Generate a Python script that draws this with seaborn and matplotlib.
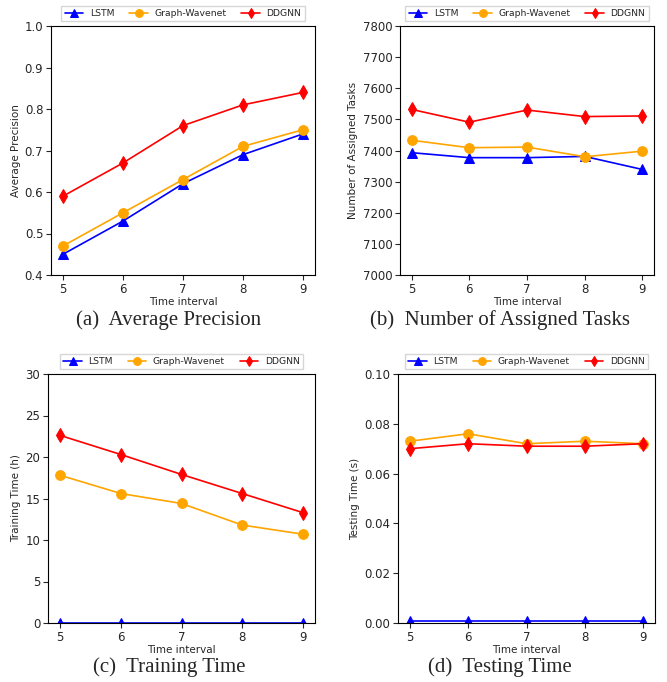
import numpy as np
import pandas as pd
import matplotlib
matplotlib.use("Agg")
import matplotlib.pyplot as plt
import seaborn as sns

sns.set_style("ticks")
plt.rcParams['font.family'] = ['DejaVu Sans']

intervals = [5, 6, 7, 8, 9]
methods = ["LSTM", "Graph-Wavenet", "DDGNN"]

ap_lstm = [0.45, 0.53, 0.62, 0.69, 0.74]
ap_gw = [0.47, 0.55, 0.63, 0.71, 0.75]
ap_ddgnn = [0.59, 0.67, 0.76, 0.81, 0.84]

tasks_lstm = [7393, 7377, 7377, 7381, 7339]
tasks_gw = [7433, 7409, 7411, 7380, 7398]
tasks_ddgnn = [7532, 7491, 7530, 7509, 7511]

train_lstm = [0.05, 0.05, 0.05, 0.05, 0.05]
train_gw = [17.8, 15.6, 14.4, 11.8, 10.7]
train_ddgnn = [22.6, 20.3, 17.9, 15.6, 13.3]

test_lstm = [0.001, 0.001, 0.001, 0.001, 0.001]
test_gw = [0.073, 0.076, 0.072, 0.073, 0.072]
test_ddgnn = [0.070, 0.072, 0.071, 0.071, 0.072]

colors = {"LSTM": "blue", "Graph-Wavenet": "orange", "DDGNN": "red"}
markers = {"LSTM": "^", "Graph-Wavenet": "o", "DDGNN": "d"}

W, H = 667, 682
fig = plt.figure(figsize=(W / 100, H / 100), dpi=100)

def box(l, t, r, b):
    return [l / W, 1 - b / H, (r - l) / W, (b - t) / H]

panels = [
    (box(51, 26, 315, 275), (ap_lstm, ap_gw, ap_ddgnn), "Average Precision",
     (0.4, 1.0), np.arange(0.4, 1.01, 0.1), "{:.1f}", "(a)  Average Precision", 169, 320),
    (box(400, 26, 654, 275), (tasks_lstm, tasks_gw, tasks_ddgnn), "Number of Assigned Tasks",
     (7000, 7800), np.arange(7000, 7801, 100), "{:.0f}", "(b)  Number of Assigned Tasks", 500, 320),
    (box(48, 374, 315, 623), (train_lstm, train_gw, train_ddgnn), "Training Time (h)",
     (0, 30), np.arange(0, 31, 5), "{:.0f}", "(c)  Training Time", 169, 667),
    (box(398, 374, 655, 623), (test_lstm, test_gw, test_ddgnn), "Testing Time (s)",
     (0, 0.1), np.arange(0, 0.101, 0.02), "{:.2f}", "(d)  Testing Time", 500, 667),
]

for rect, series, ylabel, ylim, yticks, fmt, caption, cx, cy in panels:
    ax = fig.add_axes(rect)
    rows = []
    for m, vals in zip(methods, series):
        for x, v in zip(intervals, vals):
            rows.append({"Time interval": x, "value": v, "method": m})
    df = pd.DataFrame(rows)
    for m in methods:
        sub = df[df["method"] == m]
        sns.lineplot(data=sub, x="Time interval", y="value", color=colors[m],
                     marker=markers[m], markersize=7, markeredgecolor=colors[m],
                     linewidth=1.2, label=m, ax=ax)
    ax.set_ylim(*ylim)
    ax.set_yticks(yticks)
    ax.set_yticklabels([fmt.format(t) for t in yticks])
    ax.set_xticks(intervals)
    ax.set_xlim(4.8, 9.2)
    ax.tick_params(labelsize=8.5, length=3.5, width=0.8, pad=2)
    ax.set_ylabel(ylabel, fontsize=7.5, labelpad=3)
    ax.set_xlabel("Time interval", fontsize=7.5, labelpad=1)
    for s in ax.spines.values():
        s.set_linewidth(0.8)
        s.set_color("black")
    ax.legend(loc="lower center", bbox_to_anchor=(0.5, 1.02), ncol=3, fontsize=6.7,
              frameon=True, fancybox=False, edgecolor="#cccccc", borderaxespad=0.0,
              handlelength=2.0, columnspacing=1.6, markerscale=0.8,
              borderpad=0.35, handletextpad=0.7)
    fig.text(cx / W, 1 - cy / H, caption, ha="center", va="center",
             fontsize=15, family="Liberation Serif")

fig.savefig("out.png", dpi=100)
